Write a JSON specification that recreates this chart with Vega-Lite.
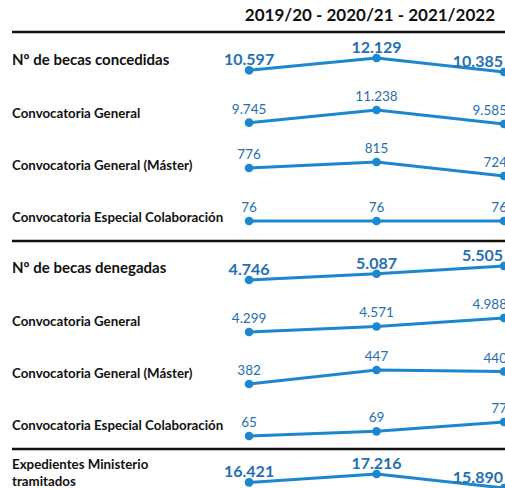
{
  "$schema": "https://vega.github.io/schema/vega-lite/v6.json",
  "padding": {"left": 10, "top": 6, "right": 0, "bottom": 0},
  "config": {
    "view": {"stroke": null},
    "font": "Lato",
    "locale": {"number": {"decimal": ",", "thousands": ".", "grouping": [3], "currency": ["", " €"]}}
  },
  "datasets": {
    "separador": [{"linea": "superior"}],
    "becas": [
      {"row": 1, "label": "Nº de becas concedidas", "kind": "total", "season": "2019/20", "year": 2019, "value": 10597},
      {"row": 1, "label": "Nº de becas concedidas", "kind": "total", "season": "2020/21", "year": 2020, "value": 12129},
      {"row": 1, "label": "Nº de becas concedidas", "kind": "total", "season": "2021/2022", "year": 2021, "value": 10385},
      {"row": 2, "label": "Convocatoria General", "kind": "sub", "season": "2019/20", "year": 2019, "value": 9745},
      {"row": 2, "label": "Convocatoria General", "kind": "sub", "season": "2020/21", "year": 2020, "value": 11238},
      {"row": 2, "label": "Convocatoria General", "kind": "sub", "season": "2021/2022", "year": 2021, "value": 9585},
      {"row": 3, "label": "Convocatoria General (Máster)", "kind": "sub", "season": "2019/20", "year": 2019, "value": 776},
      {"row": 3, "label": "Convocatoria General (Máster)", "kind": "sub", "season": "2020/21", "year": 2020, "value": 815},
      {"row": 3, "label": "Convocatoria General (Máster)", "kind": "sub", "season": "2021/2022", "year": 2021, "value": 724},
      {"row": 4, "label": "Convocatoria Especial Colaboración", "kind": "sub", "season": "2019/20", "year": 2019, "value": 76},
      {"row": 4, "label": "Convocatoria Especial Colaboración", "kind": "sub", "season": "2020/21", "year": 2020, "value": 76},
      {"row": 4, "label": "Convocatoria Especial Colaboración", "kind": "sub", "season": "2021/2022", "year": 2021, "value": 76},
      {"row": 5, "label": "Nº de becas denegadas", "kind": "total", "season": "2019/20", "year": 2019, "value": 4746},
      {"row": 5, "label": "Nº de becas denegadas", "kind": "total", "season": "2020/21", "year": 2020, "value": 5087},
      {"row": 5, "label": "Nº de becas denegadas", "kind": "total", "season": "2021/2022", "year": 2021, "value": 5505},
      {"row": 6, "label": "Convocatoria General", "kind": "sub", "season": "2019/20", "year": 2019, "value": 4299},
      {"row": 6, "label": "Convocatoria General", "kind": "sub", "season": "2020/21", "year": 2020, "value": 4571},
      {"row": 6, "label": "Convocatoria General", "kind": "sub", "season": "2021/2022", "year": 2021, "value": 4988},
      {"row": 7, "label": "Convocatoria General (Máster)", "kind": "sub", "season": "2019/20", "year": 2019, "value": 382},
      {"row": 7, "label": "Convocatoria General (Máster)", "kind": "sub", "season": "2020/21", "year": 2020, "value": 447},
      {"row": 7, "label": "Convocatoria General (Máster)", "kind": "sub", "season": "2021/2022", "year": 2021, "value": 440},
      {"row": 8, "label": "Convocatoria Especial Colaboración", "kind": "sub", "season": "2019/20", "year": 2019, "value": 65},
      {"row": 8, "label": "Convocatoria Especial Colaboración", "kind": "sub", "season": "2020/21", "year": 2020, "value": 69},
      {"row": 8, "label": "Convocatoria Especial Colaboración", "kind": "sub", "season": "2021/2022", "year": 2021, "value": 77},
      {"row": 9, "label": "Expedientes Ministerio\ntramitados", "kind": "expedientes", "season": "2019/20", "year": 2019, "value": 16421},
      {"row": 9, "label": "Expedientes Ministerio\ntramitados", "kind": "expedientes", "season": "2020/21", "year": 2020, "value": 17216},
      {"row": 9, "label": "Expedientes Ministerio\ntramitados", "kind": "expedientes", "season": "2021/2022", "year": 2021, "value": 15890}
    ]
  },
  "spacing": 6,
  "vconcat": [
    {
      "data": {"name": "separador"},
      "width": 495,
      "height": 1,
      "title": {"text": "2019/20 - 2020/21 - 2021/2022", "anchor": "end", "frame": "group", "font": "Lato", "fontSize": 17, "fontWeight": "bold", "color": "#111111", "dx": -12, "offset": 6},
      "mark": {"type": "rule", "color": "#111111", "strokeWidth": 2.5},
      "encoding": {
        "x": {"datum": 0, "type": "quantitative", "scale": {"domain": [0, 1]}, "axis": null},
        "x2": {"datum": 1},
        "y": {"datum": 0, "type": "quantitative", "scale": {"domain": [0, 1]}, "axis": null}
      }
    },
    {
      "data": {"name": "becas"},
      "facet": {"row": {"field": "row", "type": "ordinal", "header": {"labels": false, "title": null}}},
      "spacing": {"row": 38},
      "bounds": "flush",
      "resolve": {"scale": {"y": "independent"}},
      "spec": {
        "width": 492,
        "height": 14,
        "encoding": {
          "x": {"field": "year", "type": "quantitative", "scale": {"domain": [2017.14, 2021], "nice": false, "zero": false}, "axis": null},
          "y": {"field": "value", "type": "quantitative", "scale": {"zero": false, "nice": false}, "axis": null}
        },
        "layer": [
          {
            "transform": [
              {"joinaggregate": [{"op": "max", "field": "value", "as": "top"}], "groupby": ["row"]},
              {"filter": "datum.kind != 'sub' && datum.year == 2019 && datum.row > 1"}
            ],
            "mark": {"type": "rule", "color": "#111111", "strokeWidth": 2.5, "yOffset": -25, "y2Offset": -25},
            "encoding": {
              "x": {"datum": 2017.14, "type": "quantitative"},
              "x2": {"datum": 2021.03},
              "y": {"field": "top", "type": "quantitative"}
            }
          },
          {
            "mark": {"type": "line", "color": "#1b87cf", "strokeWidth": 3}
          },
          {
            "mark": {"type": "point", "filled": true, "opacity": 1, "color": "#1b87cf", "size": 75}
          },
          {
            "transform": [{"filter": "datum.kind != 'sub' && datum.year < 2021"}],
            "mark": {"type": "text", "color": "#1f6fb2", "font": "Lato", "fontSize": 16, "fontWeight": "bold", "baseline": "alphabetic", "align": "center", "dy": -5},
            "encoding": {"text": {"field": "value", "type": "quantitative", "format": ",d"}}
          },
          {
            "transform": [{"filter": "datum.kind != 'sub' && datum.year == 2021"}],
            "mark": {"type": "text", "color": "#1f6fb2", "font": "Lato", "fontSize": 16, "fontWeight": "bold", "baseline": "alphabetic", "align": "right", "dx": -1, "dy": -5},
            "encoding": {"text": {"field": "value", "type": "quantitative", "format": ",d"}}
          },
          {
            "transform": [{"filter": "datum.kind == 'sub' && datum.year < 2021"}],
            "mark": {"type": "text", "color": "#1f6fb2", "font": "Lato", "fontSize": 13.5, "baseline": "alphabetic", "align": "center", "dy": -9},
            "encoding": {"text": {"field": "value", "type": "quantitative", "format": ",d"}}
          },
          {
            "transform": [{"filter": "datum.kind == 'sub' && datum.year == 2021"}],
            "mark": {"type": "text", "color": "#1f6fb2", "font": "Lato", "fontSize": 13.5, "baseline": "alphabetic", "align": "right", "dx": 3, "dy": -9},
            "encoding": {"text": {"field": "value", "type": "quantitative", "format": ",d"}}
          },
          {
            "transform": [{"filter": "datum.kind == 'total' && datum.year == 2019"}],
            "mark": {"type": "text", "color": "#111111", "font": "Lato", "fontSize": 15, "fontWeight": "bold", "align": "left", "baseline": "middle", "dy": -5},
            "encoding": {
              "x": {"datum": 2017.14, "type": "quantitative"},
              "y": null,
              "text": {"field": "label"}
            }
          },
          {
            "transform": [{"filter": "datum.kind == 'sub' && datum.year == 2019"}],
            "mark": {"type": "text", "color": "#111111", "font": "Lato", "fontSize": 13.3, "fontWeight": "bold", "align": "left", "baseline": "middle", "dy": -3},
            "encoding": {
              "x": {"datum": 2017.14, "type": "quantitative"},
              "y": null,
              "text": {"field": "label"}
            }
          },
          {
            "transform": [{"filter": "datum.kind == 'expedientes' && datum.year == 2019"}],
            "mark": {"type": "text", "color": "#111111", "font": "Lato", "fontSize": 13.3, "fontWeight": "bold", "align": "left", "baseline": "middle", "lineBreak": "\n", "lineHeight": 17, "dy": -16},
            "encoding": {
              "x": {"datum": 2017.14, "type": "quantitative"},
              "y": null,
              "text": {"field": "label"}
            }
          }
        ]
      }
    }
  ]
}
